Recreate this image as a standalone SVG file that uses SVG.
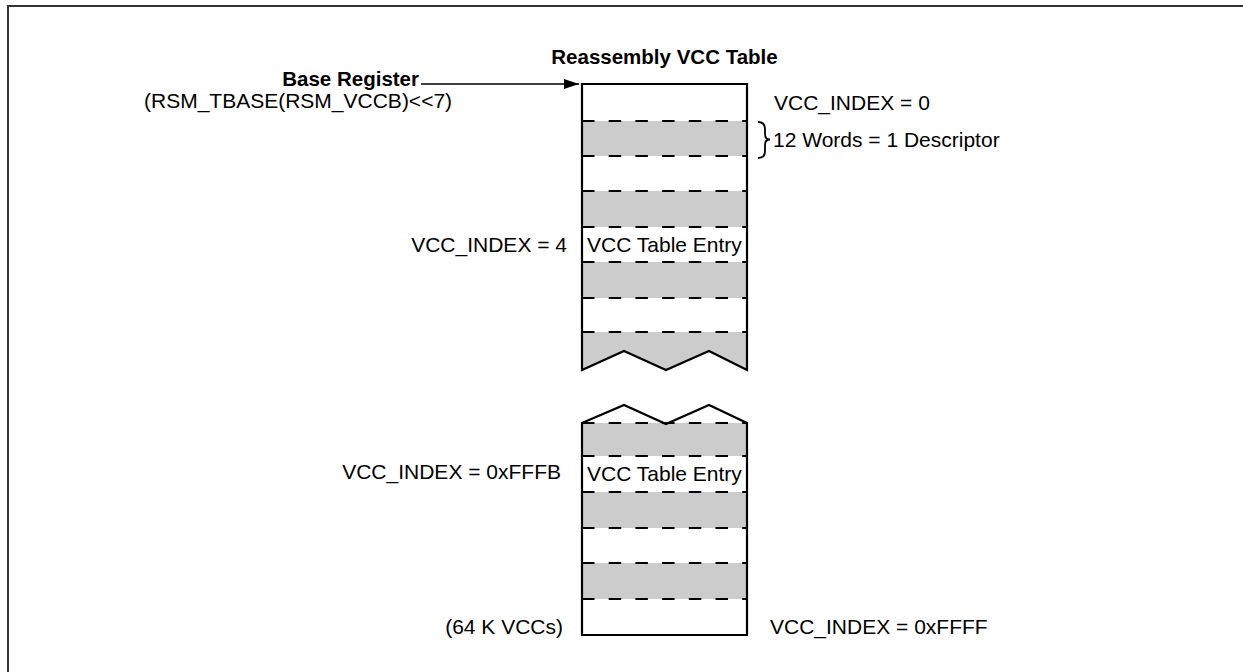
<svg xmlns="http://www.w3.org/2000/svg" width="1243" height="672" viewBox="0 0 1243 672">
<style>
text{font-family:"Liberation Sans",Arial,sans-serif;font-size:21px;fill:#000}
.b{font-weight:bold;font-size:20.5px}
.out{fill:none;stroke:#000;stroke-width:2.2;stroke-linejoin:miter}
.dash{stroke:#000;stroke-width:2;stroke-dasharray:12.5 14.2;fill:none}
.gray{fill:#cccccc;stroke:none}
</style>
<defs>
<marker id="ah" markerWidth="15" markerHeight="10" refX="15" refY="5" orient="auto" markerUnits="userSpaceOnUse">
<path d="M0,0 L15,5 L0,10 Z" fill="#000"/>
</marker>
</defs>
<rect width="1243" height="672" fill="#fff"/>
<g id="frame">
<path d="M8,672 V6 H1243" fill="none" stroke="#333" stroke-width="2"/>
</g>
<g id="title"><text class="b" x="664.5" y="64" text-anchor="middle">Reassembly VCC Table</text></g>
<g id="base-register">
<text class="b" x="419" y="86" text-anchor="end">Base Register</text>
<text x="144" y="108">(RSM_TBASE(RSM_VCCB)&lt;&lt;7)</text>
</g>
<g id="connectors">
<line x1="421" y1="84" x2="579" y2="84" stroke="#000" stroke-width="1.6" marker-end="url(#ah)"/>
</g>
<g id="table-upper">
<rect class="gray" x="582" y="121" width="165" height="35"/>
<rect class="gray" x="582" y="191" width="165" height="36"/>
<rect class="gray" x="582" y="262" width="165" height="36"/>
<polygon class="gray" points="582,332 747,332 747,370 709,351 666,370 624,351 582,370"/>
<line class="dash" x1="582" y1="121" x2="747" y2="121"/>
<line class="dash" x1="582" y1="156" x2="747" y2="156"/>
<line class="dash" x1="582" y1="191" x2="747" y2="191"/>
<line class="dash" x1="582" y1="227" x2="747" y2="227"/>
<line class="dash" x1="582" y1="262" x2="747" y2="262"/>
<line class="dash" x1="582" y1="298" x2="747" y2="298"/>
<line class="dash" x1="582" y1="332" x2="747" y2="332"/>
<path class="out" d="M582,84 H747 V370 L709,351 L666,370 L624,351 L582,370 Z"/>
<text x="587" y="252">VCC Table Entry</text>
</g>
<g id="table-lower">
<rect class="gray" x="582" y="423" width="165" height="33"/>
<rect class="gray" x="582" y="492" width="165" height="36"/>
<rect class="gray" x="582" y="563" width="165" height="36"/>
<line class="dash" x1="582" y1="423" x2="747" y2="423"/>
<line class="dash" x1="582" y1="456" x2="747" y2="456"/>
<line class="dash" x1="582" y1="492" x2="747" y2="492"/>
<line class="dash" x1="582" y1="528" x2="747" y2="528"/>
<line class="dash" x1="582" y1="563" x2="747" y2="563"/>
<line class="dash" x1="582" y1="599" x2="747" y2="599"/>
<path class="out" d="M582,423 L624,405 L666,424 L709,405 L747,423 V635 H582 Z"/>
<text x="587" y="481">VCC Table Entry</text>
</g>
<g id="labels">
<text x="774" y="110">VCC_INDEX = 0</text>
<path d="M758,122 Q765,122 765,129 V134 Q765,139.5 770,139.5 Q765,139.5 765,145 V151 Q765,158 758,158" fill="none" stroke="#000" stroke-width="1.8"/>
<text x="773" y="147">12 Words = 1 Descriptor</text>
<text x="567" y="252" text-anchor="end">VCC_INDEX = 4</text>
<text x="561" y="479" text-anchor="end">VCC_INDEX = 0xFFFB</text>
<text x="563" y="634" text-anchor="end">(64 K VCCs)</text>
<text x="770" y="634">VCC_INDEX = 0xFFFF</text>
</g>
</svg>
